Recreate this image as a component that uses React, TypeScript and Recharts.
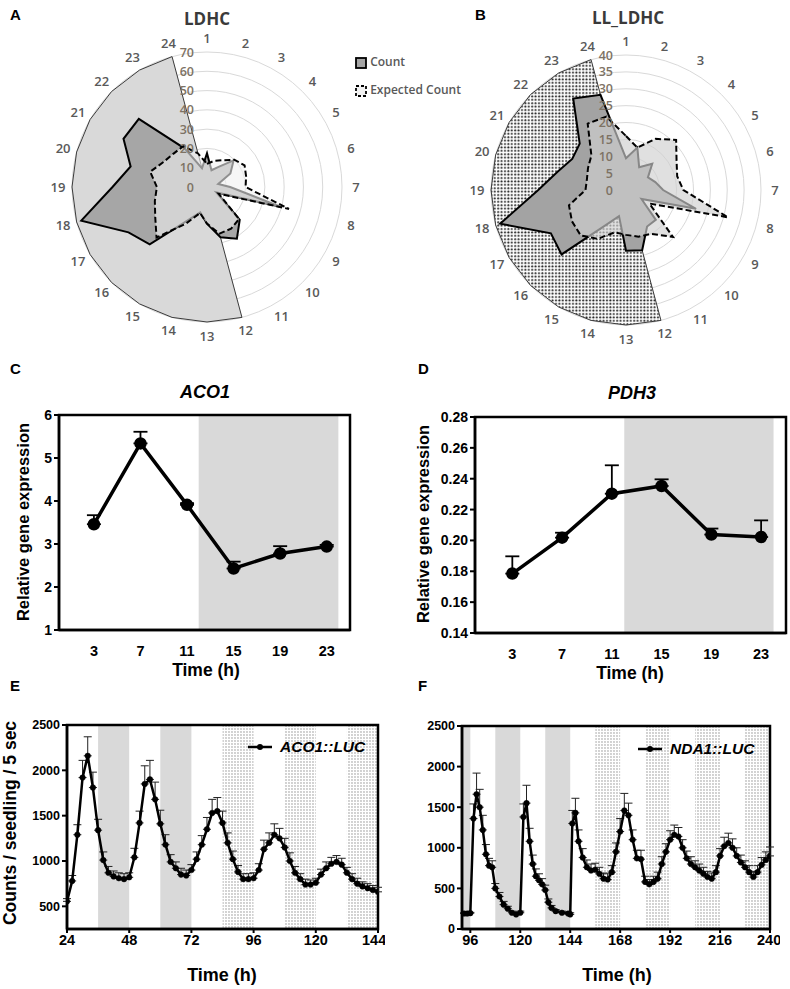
import React from 'react';
import {
  RadarChart, PolarGrid, PolarAngleAxis, PolarRadiusAxis, Radar,
  LineChart, Line, XAxis, YAxis, ReferenceArea, ErrorBar,
} from 'recharts';

// ---- radar data (hour of day 1..24) ----
const HOURS = ['1', '2', '3', '4', '5', '6', '7', '8', '9', '10', '11', '12', '13', '14', '15', '16', '17', '18', '19', '20', '21', '22', '23', '24'];
const LDHC_COUNT = [17.5, 9, 12, 19.5, 14, 6, 12, 39, 5.6, 24, 31, 27, 19, 13.6, 20, 42, 47, 67.5, 49, 41, 50, 50, 23, 10];
const LDHC_EXPECTED = [12, 14, 16, 20, 22.5, 21, 20, 44, 7, 23.5, 25, 25, 19, 14, 22, 37, 31, 28, 26, 30.5, 26, 24.5, 24.5, 18];
const LDHC_NIGHT = [0, 0, 0, 0, 0, 0, 0, 0, 0, 0, 0, 70, 70, 70, 70, 70, 70, 70, 70, 70, 70, 70, 70, 70];
const LL_COUNT = [9.4, 13, 7.8, 11, 7.5, 9, 11, 21.5, 5.3, 12.5, 12.5, 18.5, 18, 8, 12, 27, 25.7, 38.6, 26, 21, 18.4, 19.4, 31.3, 29.2];
const LL_EXPECTED = [16, 13, 17.5, 21, 17.3, 15.7, 17, 31.3, 8, 19.7, 15, 14.3, 13.3, 13, 16.7, 19, 18.5, 17.5, 12, 12, 13, 14.5, 22.7, 22.5];
const LL_NIGHT = [0, 0, 0, 0, 0, 0, 0, 0, 0, 0, 0, 40, 40, 40, 40, 40, 40, 40, 40, 40, 40, 40, 40, 40];

// ---- qPCR ----
const QPCR_TIME = [3, 7, 11, 15, 19, 23];
const ACO1 = [3.46, 5.34, 3.91, 2.43, 2.78, 2.94];
const ACO1_SD = [0.21, 0.27, 0.04, 0.16, 0.17, 0.04];
const PDH3 = [0.1785, 0.2018, 0.2303, 0.2353, 0.2038, 0.2022];
const PDH3_SD = [0.0112, 0.0032, 0.0184, 0.0043, 0.0039, 0.0108];

// ---- luciferase traces ----
const E_TIME = [24, 26, 28, 30, 32, 34, 36, 38, 40, 42, 44, 46, 48, 50, 52, 54, 56, 58, 60, 62, 64, 66, 68, 70, 72, 74, 76, 78, 80, 82, 84, 86, 88, 90, 92, 94, 96, 98, 100, 102, 104, 106, 108, 110, 112, 114, 116, 118, 120, 122, 124, 126, 128, 130, 132, 134, 136, 138, 140, 142, 144];
const ACO1_LUC = [555, 780, 1290, 1920, 2160, 1810, 1340, 1010, 870, 830, 810, 800, 820, 1040, 1420, 1850, 1900, 1680, 1410, 1180, 990, 920, 850, 840, 900, 1020, 1180, 1350, 1530, 1550, 1420, 1200, 1020, 880, 800, 800, 810, 900, 1130, 1200, 1290, 1250, 1150, 1000, 870, 800, 740, 740, 760, 850, 920, 970, 990, 960, 870, 800, 750, 720, 700, 680, 660];
const ACO1_LUC_SD = [30, 60, 110, 190, 210, 170, 120, 90, 70, 60, 60, 60, 50, 100, 130, 200, 210, 190, 150, 110, 80, 70, 70, 60, 60, 80, 100, 130, 150, 150, 130, 110, 90, 70, 60, 60, 60, 70, 100, 110, 120, 110, 100, 90, 70, 60, 60, 50, 50, 60, 70, 70, 70, 70, 60, 60, 60, 50, 50, 50, 50];

const F_TIME = [93, 94.5, 96, 97.5, 99, 100.5, 102, 103.5, 105, 106.5, 108, 110, 112, 114, 116, 118, 120, 121.5, 123, 124.5, 126, 127.5, 129, 130.5, 132, 133.5, 135, 137, 140, 143, 144, 145, 146.5, 148, 150, 152, 154, 156, 158, 160, 162, 164, 166, 168, 170, 172, 174, 176, 178, 180, 182, 184, 186, 188, 190, 192, 194, 196, 198, 200, 202, 204, 206, 208, 210, 212, 214, 216, 218, 220, 222, 224, 226, 228, 230, 232, 234, 236, 238, 240];
const NDA1_LUC = [190, 190, 195, 1360, 1660, 1500, 1220, 920, 780, 760, 500, 400, 300, 250, 200, 180, 200, 1380, 1550, 1080, 800, 650, 600, 550, 480, 330, 260, 220, 200, 190, 180, 1300, 1430, 1080, 880, 760, 720, 730, 680, 620, 610, 700, 950, 1200, 1460, 1400, 1100, 870, 860, 580, 550, 580, 620, 800, 950, 1100, 1160, 1140, 1000, 870, 800, 760, 720, 680, 640, 620, 700, 900, 1020, 1060, 1000, 900, 820, 760, 700, 640, 700, 790, 850, 900];
const NDA1_LUC_SD = [10, 10, 10, 180, 260, 220, 180, 120, 90, 80, 60, 50, 40, 30, 20, 20, 20, 160, 220, 160, 110, 90, 80, 70, 60, 40, 30, 20, 20, 20, 20, 160, 180, 140, 110, 90, 80, 80, 80, 70, 70, 80, 110, 160, 210, 150, 120, 100, 110, 70, 60, 70, 80, 90, 100, 110, 120, 110, 100, 90, 90, 80, 80, 80, 70, 70, 80, 90, 110, 120, 110, 100, 90, 80, 80, 70, 80, 90, 100, 110];

const AXIS_FONT = '"Liberation Sans", Arial, sans-serif';
const XL_FONT = '"Open Sans", sans-serif';

const HourTick = (props: any) => {
  const { payload, cx, cy, radius } = props;
  let x = props.x;
  let y = props.y;
  if (cx != null && radius != null) {
    const a = (-payload.coordinate * Math.PI) / 180;
    x = cx + (radius + 14) * Math.cos(a);
    y = cy + (radius + 14) * Math.sin(a);
  }
  return (
    <text x={x} y={y + 4.5} textAnchor="middle" fontSize={13} fontWeight={600} fill="#595959" fontFamily={XL_FONT}>
      {payload.value}
    </text>
  );
};

const RadiusTick = (props: any) => (
  <text x={props.x - 13} y={props.y + 4.5} textAnchor="end" fontSize={12.5} fontWeight={600} fill="#7d7264" fontFamily={XL_FONT}>
    {props.payload.value}
  </text>
);

function PhaseRadar({ count, expected, night, max, tickCount, cx, cy, sectorFill, expFill, expOpacity, countFill }: any) {
  const data = HOURS.map((h, i) => ({ hour: h, count: count[i], expected: expected[i], night: night[i] }));
  return (
    <RadarChart width={395} height={348} data={data} cx={cx} cy={cy} outerRadius={135} margin={{ top: 0, right: 0, bottom: 0, left: 0 }}>
      <defs>
        <pattern id="radarDots" width="3.4" height="3.4" patternUnits="userSpaceOnUse">
          <rect width="3.4" height="3.4" fill="#ffffff" />
          <circle cx="1.2" cy="1.2" r="1" fill="#222" />
        </pattern>
      </defs>
      <PolarGrid gridType="circle" radialLines={false} stroke="#d9d9d9" strokeWidth={1} />
      <PolarAngleAxis dataKey="hour" tick={<HourTick />} tickLine={false} axisLine={false} />
      <PolarRadiusAxis angle={90} domain={[0, max]} tickCount={tickCount} tick={<RadiusTick />} axisLine={false} tickLine={false} />
      <Radar dataKey="night" fill={sectorFill} fillOpacity={1} stroke="#3a3a3a" strokeWidth={1} dot={false} isAnimationActive={false} />
      <Radar dataKey="count" fill={countFill} fillOpacity={1} stroke="#000" strokeWidth={2} dot={false} isAnimationActive={false} />
      <Radar dataKey="expected" fill={expFill} fillOpacity={expOpacity} stroke="#000" strokeWidth={2} strokeDasharray="6 3" dot={false} isAnimationActive={false} />
    </RadarChart>
  );
}

const yTickStyle = { fontSize: 14, fontWeight: 700, fill: '#000', fontFamily: AXIS_FONT };
const xTickStyle = { fontSize: 14.5, fontWeight: 700, fill: '#000', fontFamily: AXIS_FONT };

function QpcrPanel({ values, sd, domain, ticks, fmt, width, height, yWidth, top, right }: any) {
  const data = QPCR_TIME.map((t, i) => ({ t, v: values[i], e: [0, sd[i]] }));
  return (
    <LineChart width={width} height={height} data={data} margin={{ top, right, left: 0, bottom: 0 }}>
      <ReferenceArea x1={12} x2={24} fill="#d9d9d9" fillOpacity={1} stroke="none" />
      <ReferenceArea x1={0} x2={25} y1={domain[0]} y2={domain[1]} fill="none" stroke="#000" strokeWidth={2.5} />
      <XAxis dataKey="t" type="number" domain={[0, 25]} ticks={QPCR_TIME} tick={xTickStyle} height={30} tickMargin={10} axisLine={{ stroke: '#000', strokeWidth: 2.5 }} tickLine={false} />
      <YAxis type="number" domain={domain} ticks={ticks} tickFormatter={fmt} tick={yTickStyle} width={yWidth} axisLine={{ stroke: '#000', strokeWidth: 2.5 }} tickLine={{ stroke: '#000', strokeWidth: 2 }} tickSize={5} />
      <Line dataKey="v" stroke="#000" strokeWidth={3.5} dot={{ r: 4.5, fill: '#000', stroke: '#000' }} isAnimationActive={false}>
        <ErrorBar dataKey="e" width={7} stroke="#000" strokeWidth={1.8} direction="y" />
      </Line>
    </LineChart>
  );
}

function LucPanel({ time, values, sd, xDomain, xTicks, yDomain, yTicks, dark, dotted, width, height, yWidth, top, right, pid }: any) {
  const data = time.map((t: number, i: number) => ({ t, v: values[i], e: [0, sd[i]] }));
  return (
    <LineChart width={width} height={height} data={data} margin={{ top, right, left: 0, bottom: 0 }}>
      <defs>
        <pattern id={pid} width="3" height="3" patternUnits="userSpaceOnUse">
          <rect width="3" height="3" fill="#ffffff" />
          <circle cx="1" cy="1" r="0.65" fill="#808080" />
        </pattern>
      </defs>
      {dark.map((d: number[], i: number) => (
        <ReferenceArea key={'d' + i} x1={d[0]} x2={d[1]} fill="#d9d9d9" fillOpacity={1} stroke="none" />
      ))}
      {dotted.map((d: number[], i: number) => (
        <ReferenceArea key={'s' + i} x1={d[0]} x2={d[1]} fill={`url(#${pid})`} fillOpacity={1} stroke="none" />
      ))}
      <ReferenceArea x1={xDomain[0]} x2={xDomain[1]} y1={yDomain[0]} y2={yDomain[1]} fill="none" stroke="#000" strokeWidth={2.5} />
      <XAxis dataKey="t" type="number" domain={xDomain} ticks={xTicks} tick={xTickStyle} height={24} axisLine={{ stroke: '#000', strokeWidth: 2.5 }} tickLine={{ stroke: '#000', strokeWidth: 2 }} tickSize={4} allowDataOverflow />
      <YAxis type="number" domain={yDomain} ticks={yTicks} tick={{ ...yTickStyle, fontSize: 12.5 }} width={yWidth} axisLine={{ stroke: '#000', strokeWidth: 2.5 }} tickLine={{ stroke: '#000', strokeWidth: 2 }} tickSize={5} allowDataOverflow />
      <Line dataKey="v" stroke="#000" strokeWidth={2.5} dot={{ r: 2.8, fill: '#000', stroke: '#000', strokeWidth: 0.5 }} isAnimationActive={false}>
        <ErrorBar dataKey="e" width={4} stroke="#222" strokeWidth={1} direction="y" />
      </Line>
    </LineChart>
  );
}

const abs = (left: number, top: number, extra: any = {}) => ({ position: 'absolute' as const, left, top, lineHeight: 1, ...extra });
const letter = { fontFamily: AXIS_FONT, fontWeight: 700, fontSize: 15, color: '#000' };
const centered = { transform: 'translate(-50%, -50%)', whiteSpace: 'nowrap' as const };
const rotated = { transform: 'translate(-50%, -50%) rotate(-90deg)', whiteSpace: 'nowrap' as const };

function LegendSwatch({ dashed }: { dashed?: boolean }) {
  return (
    <svg width={12} height={12} style={{ verticalAlign: 'middle' }}>
      <rect x={1} y={1} width={10} height={10} fill={dashed ? '#f2f2f2' : '#a6a6a6'} stroke="#000" strokeWidth={1.8} strokeDasharray={dashed ? '3 2' : undefined} />
    </svg>
  );
}

function LucLegend({ label }: { label: string }) {
  return (
    <div style={{ display: 'flex', alignItems: 'center', fontFamily: AXIS_FONT, fontStyle: 'italic', fontWeight: 700, fontSize: 15.5 }}>
      <svg width={24} height={10}>
        <line x1={0} y1={5} x2={24} y2={5} stroke="#000" strokeWidth={2.5} />
        <circle cx={12} cy={5} r={3} fill="#000" />
      </svg>
      <span style={{ marginLeft: 8 }}>{label}</span>
    </div>
  );
}

export default function App() {
  return (
    <div style={{ position: 'absolute', left: 0, top: 0, width: 790, height: 989, background: '#fff', overflow: 'hidden' }}>
      {/* A / B radars */}
      <div style={abs(0, 0)}>
        <PhaseRadar count={LDHC_COUNT} expected={LDHC_EXPECTED} night={LDHC_NIGHT} max={70} tickCount={8} cx={207} cy={187} sectorFill="#d9d9d9" expFill="#f0f0f0" expOpacity={0.6} countFill="#a6a6a6" />
      </div>
      <div style={abs(395, 0)}>
        <PhaseRadar count={LL_COUNT} expected={LL_EXPECTED} night={LL_NIGHT} max={40} tickCount={9} cx={231} cy={190} sectorFill="url(#radarDots)" expFill="#cfcfcf" expOpacity={0.65} countFill="#a3a3a3" />
      </div>
      <div style={abs(10, 7, letter)}>A</div>
      <div style={abs(475, 7, letter)}>B</div>
      <div style={abs(207, 18, { ...centered, fontFamily: XL_FONT, fontWeight: 700, fontSize: 17, color: '#3a3a3a' })}>LDHC</div>
      <div style={abs(628, 17, { ...centered, fontFamily: XL_FONT, fontWeight: 700, fontSize: 17, color: '#3a3a3a' })}>LL_LDHC</div>
      <div style={abs(355, 55, { fontFamily: XL_FONT, fontWeight: 600, fontSize: 12, color: '#595959', lineHeight: '14px' })}>
        <div><LegendSwatch /> <span>Count</span></div>
        <div style={{ marginTop: 14 }}><LegendSwatch dashed /> <span>Expected Count</span></div>
      </div>

      {/* C / D qPCR */}
      <div style={abs(10, 361, letter)}>C</div>
      <div style={abs(418, 361, letter)}>D</div>
      <div style={abs(205, 392, { ...centered, fontFamily: AXIS_FONT, fontWeight: 700, fontStyle: 'italic', fontSize: 18 })}>ACO1</div>
      <div style={abs(632, 393, { ...centered, fontFamily: AXIS_FONT, fontWeight: 700, fontStyle: 'italic', fontSize: 18 })}>PDH3</div>
      <div style={abs(0, 400)}>
        <QpcrPanel values={ACO1} sd={ACO1_SD} domain={[1, 6]} ticks={[1, 2, 3, 4, 5, 6]} fmt={(v: number) => String(v)} width={360} height={260} yWidth={59} top={15} right={10} />
      </div>
      <div style={abs(400, 400)}>
        <QpcrPanel values={PDH3} sd={PDH3_SD} domain={[0.14, 0.28]} ticks={[0.14, 0.16, 0.18, 0.2, 0.22, 0.24, 0.26, 0.28]} fmt={(v: number) => v.toFixed(2)} width={390} height={263} yWidth={75} top={17} right={4} />
      </div>
      <div style={abs(23, 522, { ...rotated, fontFamily: AXIS_FONT, fontWeight: 700, fontSize: 16.5 })}>Relative gene expression</div>
      <div style={abs(423, 524, { ...rotated, fontFamily: AXIS_FONT, fontWeight: 700, fontSize: 16.5 })}>Relative gene expression</div>
      <div style={abs(206, 671, { ...centered, fontFamily: AXIS_FONT, fontWeight: 700, fontSize: 17.5 })}>Time (h)</div>
      <div style={abs(630, 674, { ...centered, fontFamily: AXIS_FONT, fontWeight: 700, fontSize: 17.5 })}>Time (h)</div>

      {/* E / F luciferase */}
      <div style={abs(10, 678, letter)}>E</div>
      <div style={abs(418, 678, letter)}>F</div>
      <div style={abs(0, 710)}>
        <LucPanel time={E_TIME} values={ACO1_LUC} sd={ACO1_LUC_SD} xDomain={[24, 144]} xTicks={[24, 48, 72, 96, 120, 144]} yDomain={[250, 2500]} yTicks={[500, 1000, 1500, 2000, 2500]}
          dark={[[36, 48], [60, 72]]} dotted={[[84, 96], [108, 120], [132, 144]]} width={385} height={243} yWidth={67} top={15} right={7} pid="dotE" />
      </div>
      <div style={abs(400, 711)}>
        <LucPanel time={F_TIME} values={NDA1_LUC} sd={NDA1_LUC_SD} xDomain={[92, 240]} xTicks={[96, 120, 144, 168, 192, 216, 240]} yDomain={[0, 2500]} yTicks={[0, 500, 1000, 1500, 2000, 2500]}
          dark={[[92, 96], [108, 120], [132, 144]]} dotted={[[156, 168], [180, 192], [204, 216], [228, 240]]} width={380} height={242} yWidth={62} top={15} right={10} pid="dotF" />
      </div>
      <div style={abs(11, 823, { ...rotated, fontFamily: AXIS_FONT, fontWeight: 700, fontSize: 17.5 })}>Counts / seedling / 5 sec</div>
      <div style={abs(248, 739)}><LucLegend label="ACO1::LUC" /></div>
      <div style={abs(638, 741)}><LucLegend label="NDA1::LUC" /></div>
      <div style={abs(222, 975, { ...centered, fontFamily: AXIS_FONT, fontWeight: 700, fontSize: 18 })}>Time (h)</div>
      <div style={abs(617, 975, { ...centered, fontFamily: AXIS_FONT, fontWeight: 700, fontSize: 18 })}>Time (h)</div>
    </div>
  );
}
